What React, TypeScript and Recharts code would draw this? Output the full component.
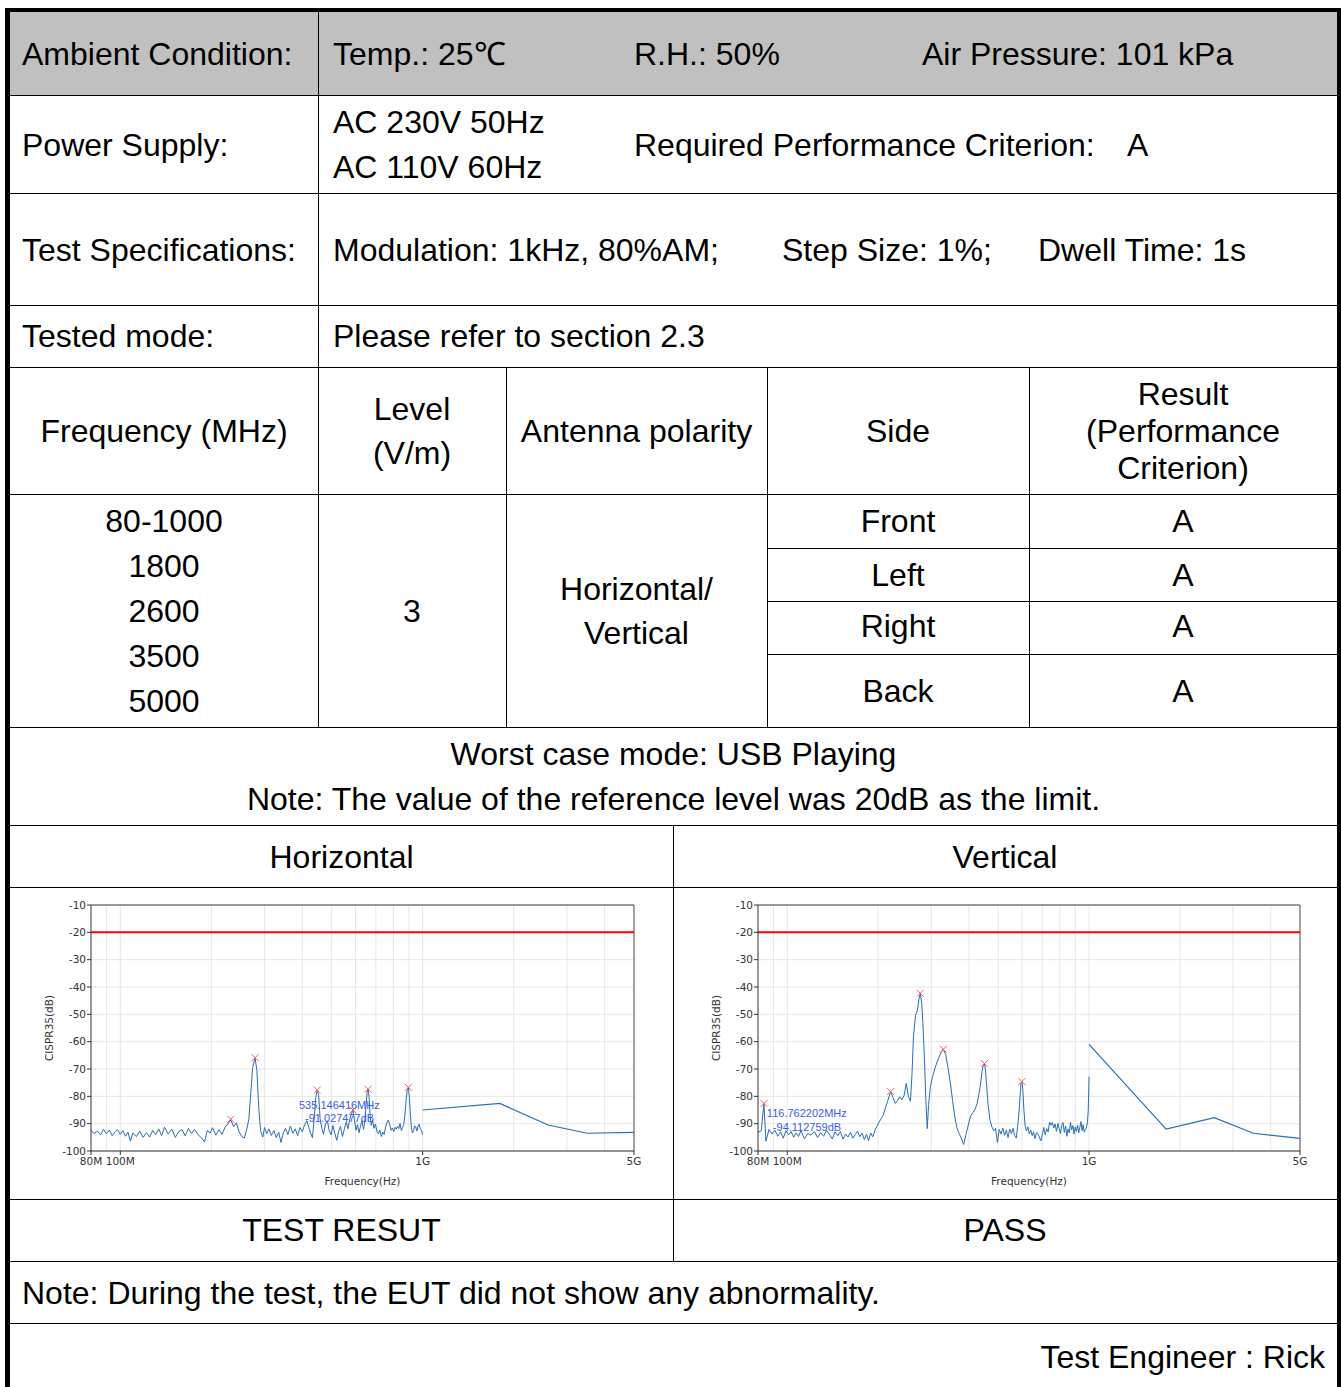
import React from "react";
import {
  ComposedChart,
  Line,
  XAxis,
  YAxis,
  CartesianGrid,
  ReferenceLine,
  ReferenceDot,
} from "recharts";

type Pt = [number, number];

// frequency in MHz, level in dB
const H_SWEEP: Pt[] = [
  [80, -92.5], [82, -93.6], [84, -92.7], [86, -94.1], [88, -92.0], [90, -93.7], [92, -92.3], [94, -94.4],
  [96, -93.0], [98, -92.2], [100, -93.9], [102, -92.5], [104, -94.6], [106, -93.1], [108, -96.4], [110, -93.4],
  [113, -94.7], [116, -92.7], [119, -95.0], [122, -93.3], [125, -94.9], [128, -92.5], [131, -94.0], [134, -91.9],
  [137, -94.4], [140, -91.3], [144, -93.8], [148, -92.0], [152, -95.0], [156, -92.9], [160, -92.2], [164, -94.5],
  [168, -91.7], [172, -93.6], [176, -92.1], [181, -94.1], [186, -95.3], [190, -96.7], [194, -92.4], [198, -93.5],
  [202, -91.5], [207, -94.2], [212, -92.2], [217, -93.9], [222, -91.3], [227, -90.1], [232, -88.6], [237, -91.1],
  [242, -89.7], [247, -92.9], [252, -94.7], [257, -95.3], [262, -92.0], [266, -88.5], [270, -79.0], [274, -69.5],
  [279, -65.9], [283, -70.5], [287, -84.0], [291, -92.6], [296, -94.9], [300, -91.4], [305, -93.7], [310, -91.9],
  [316, -94.3], [322, -92.5], [328, -95.1], [334, -93.1], [340, -96.9], [346, -93.4], [352, -91.7], [358, -94.0],
  [365, -90.9], [372, -93.5], [379, -91.9], [386, -94.4], [393, -91.4], [400, -92.9], [407, -90.4], [414, -88.9],
  [420, -91.3], [426, -93.6], [432, -95.1], [438, -87.8], [443, -80.4], [448, -77.7], [453, -79.6], [458, -88.2],
  [464, -91.7], [470, -93.9], [477, -90.1], [484, -88.9], [491, -92.6], [498, -94.1], [505, -90.7], [512, -93.5],
  [520, -96.1], [527, -92.9], [535, -91.0], [543, -94.7], [551, -91.9], [559, -89.4], [566, -91.9], [574, -88.4],
  [581, -86.5], [588, -85.0], [595, -88.7], [602, -92.4], [609, -90.4], [616, -93.3], [623, -90.9], [630, -88.9],
  [637, -92.1], [643, -89.4], [649, -84.1], [655, -78.6], [660, -77.4], [665, -80.1], [670, -87.1], [676, -90.6],
  [683, -88.7], [690, -91.7], [698, -90.1], [706, -92.9], [714, -93.7], [722, -92.4], [730, -94.7], [738, -93.1],
  [746, -94.0], [754, -91.2], [762, -89.6], [770, -88.7], [778, -90.3], [786, -92.4], [794, -91.6], [802, -92.9],
  [810, -91.3], [818, -92.0], [826, -90.9], [834, -91.8], [842, -89.9], [850, -92.5], [858, -91.4], [866, -90.2],
  [874, -86.8], [882, -81.0], [890, -77.5], [897, -76.7], [904, -80.5], [911, -86.8], [918, -91.6], [925, -93.4],
  [933, -92.6], [941, -90.8], [949, -91.2], [957, -92.7], [965, -91.0], [973, -90.2], [981, -91.9], [990, -92.4],
  [1000, -94.0],
];
const H_HIGH: Pt[] = [[1000, -85.0], [1800, -82.6], [2600, -90.5], [3500, -93.5], [5000, -93.2]];
const H_PEAKS: Pt[] = [[232, -88.4], [279, -65.9], [448, -77.7], [588, -85.0], [660, -77.4], [897, -76.7]];
const H_NOTE = ["535.146416MHz", "-91.027477dB"];

const V_SWEEP: Pt[] = [
  [80, -93.2], [82, -92.6], [83.7, -82.6], [85, -96.4], [87, -92.1], [89, -93.8], [91, -92.4], [93, -94.6],
  [95, -93.0], [97, -95.3], [99, -92.6], [101, -94.1], [103, -92.9], [105, -95.0], [107, -93.4], [109, -94.7],
  [111, -92.5], [114, -95.6], [117, -93.6], [120, -94.2], [123, -92.8], [126, -95.1], [129, -93.3], [132, -94.6],
  [135, -92.4], [138, -94.0], [141, -95.6], [144, -93.0], [147, -94.4], [150, -92.9], [153, -95.7], [156, -93.8],
  [159, -94.9], [162, -93.2], [165, -95.3], [168, -94.0], [171, -92.7], [174, -94.8], [177, -93.5], [180, -95.8],
  [183, -93.9], [186, -96.2], [189, -93.4], [192, -94.8], [196, -92.0], [200, -90.1], [204, -88.4], [208, -86.9],
  [212, -83.9], [216, -81.2], [220, -78.3], [224, -80.4], [228, -82.6], [232, -81.5], [236, -80.2], [240, -81.3],
  [244, -79.6], [248, -75.2], [252, -80.1], [256, -81.8], [259, -72.0], [262, -58.0], [266, -50.5], [270, -48.5],
  [273, -44.5], [276, -42.3], [279, -46.0], [282, -55.0], [285, -67.0], [288, -82.0], [291, -91.8], [294, -83.0],
  [298, -76.5], [303, -72.8], [309, -69.5], [316, -66.5], [323, -64.0], [329, -62.8], [335, -64.8], [341, -69.5],
  [347, -75.0], [353, -81.5], [359, -87.5], [365, -91.5], [371, -93.6], [377, -95.2], [384, -97.6], [391, -94.0],
  [398, -90.5], [405, -87.2], [412, -86.0], [419, -84.8], [426, -82.5], [432, -79.0], [437, -75.5], [442, -71.0],
  [446, -68.8], [450, -68.0], [454, -70.6], [458, -76.5], [463, -83.0], [469, -88.4], [476, -91.0], [483, -92.6],
  [490, -91.7], [497, -96.8], [504, -92.1], [511, -93.8], [518, -91.6], [525, -94.3], [532, -92.4], [539, -95.1],
  [546, -92.0], [553, -93.6], [560, -91.7], [567, -94.4], [574, -95.3], [580, -91.0], [586, -86.0], [591, -79.5],
  [595, -75.4], [599, -74.6], [603, -77.0], [608, -84.6], [614, -90.8], [620, -92.6], [627, -91.2], [634, -93.7],
  [641, -92.4], [648, -94.4], [655, -93.0], [662, -95.5], [669, -93.3], [676, -93.6], [684, -94.8], [692, -96.3],
  [700, -94.2], [708, -91.4], [716, -94.1], [724, -91.8], [732, -93.0], [740, -89.4], [748, -90.6], [756, -89.5],
  [764, -91.6], [772, -90.1], [780, -92.8], [788, -89.9], [796, -91.7], [804, -93.6], [812, -90.6], [820, -89.6],
  [828, -93.2], [836, -90.8], [844, -94.6], [852, -91.9], [860, -93.4], [868, -89.4], [876, -92.3], [884, -90.7],
  [892, -93.8], [900, -91.2], [908, -92.9], [916, -90.5], [924, -93.4], [932, -91.4], [940, -89.2], [948, -92.6],
  [956, -90.4], [964, -93.1], [972, -92.0], [980, -91.6], [988, -89.5], [994, -85.0], [1000, -72.8],
];
const V_HIGH: Pt[] = [[1000, -61.0], [1800, -92.0], [2600, -87.8], [3500, -93.5], [5000, -95.4]];
const V_PEAKS: Pt[] = [[83.7, -82.6], [220, -78.3], [276, -42.3], [329, -62.8], [450, -68.0], [599, -74.6]];
const V_NOTE = ["116.762202MHz", "-94.112759dB"];

const X_TICKS = [80, 100, 1000, 5000];
const X_TICK_LABELS: Record<number, string> = { 80: "80M", 100: "100M", 1000: "1G", 5000: "5G" };
const X_GRID = [90, 100, 200, 300, 400, 500, 600, 700, 800, 900, 1000, 2000, 3000, 4000];
const Y_TICKS = [-10, -20, -30, -40, -50, -60, -70, -80, -90, -100];
const LIMIT_DB = -20;

const rows = (pts: Pt[]) => pts.map(([f, db]) => ({ f, db }));

const axisFont = { fontSize: 10.5, fill: "#333", fontFamily: "DejaVu Sans, sans-serif" };

function Cross(props: any) {
  const { cx, cy } = props;
  if (cx == null || cy == null) return null;
  return (
    <path
      d={`M${cx - 3.5},${cy - 3.5}L${cx + 3.5},${cy + 3.5}M${cx + 3.5},${cy - 3.5}L${cx - 3.5},${cy + 3.5}`}
      stroke="#ff5a5a"
      strokeWidth={1}
      fill="none"
    />
  );
}

function ScanChart({
  sweep,
  high,
  peaks,
  note,
  noteAt,
  width,
}: {
  sweep: Pt[];
  high: Pt[];
  peaks: Pt[];
  note: string[];
  noteAt: Pt;
  width: number;
}) {
  return (
    <ComposedChart width={width} height={300} margin={{ top: 15, right: 16, bottom: 5, left: 6 }}>
      <CartesianGrid stroke="#e6e6e6" verticalValues={X_GRID} horizontalValues={Y_TICKS} />
      <XAxis
        type="number"
        dataKey="f"
        scale="log"
        domain={[80, 5000]}
        allowDataOverflow
        ticks={X_TICKS}
        interval={0}
        tickFormatter={(v: number) => X_TICK_LABELS[v] ?? ""}
        tick={axisFont}
        tickSize={4}
        tickMargin={3}
        stroke="#333"
        height={34}
        label={{ value: "Frequency(Hz)", position: "insideBottom", offset: 0, ...axisFont }}
      />
      <YAxis
        type="number"
        dataKey="db"
        domain={[-100, -10]}
        ticks={Y_TICKS}
        interval={0}
        tick={axisFont}
        tickSize={4}
        tickMargin={1}
        stroke="#333"
        width={45}
        label={{
          content: (p: any) => {
            const vb = p.viewBox || {};
            return (
              <text
                transform={`translate(${vb.x + 3},${vb.y + vb.height / 2}) rotate(-90)`}
                textAnchor="middle"
                dominantBaseline="central"
                {...axisFont}
              >
                CISPR35(dB)
              </text>
            );
          },
        }}
      />
      <ReferenceLine y={-10} stroke="#444" />
      <ReferenceLine x={5000} stroke="#444" />
      <ReferenceLine y={LIMIT_DB} stroke="#ff0000" strokeWidth={2} />
      <Line
        data={rows(sweep)}
        dataKey="db"
        stroke="#2a6fb5"
        strokeWidth={1}
        dot={false}
        isAnimationActive={false}
      />
      <Line
        data={rows(high)}
        dataKey="db"
        stroke="#2a6fb5"
        strokeWidth={1.2}
        dot={false}
        isAnimationActive={false}
      />
      <Line
        data={rows(peaks)}
        dataKey="db"
        stroke="none"
        dot={(p: any) => <Cross key={`c${p.index}`} {...p} />}
        activeDot={false}
        isAnimationActive={false}
      />
      <ReferenceDot
        x={noteAt[0]}
        y={noteAt[1]}
        shape={(p: any) => (
          <g>
            <text x={p.cx} y={p.cy} fill="#3b5bf0" fontSize={11} fontFamily="Liberation Sans, Arial">
              {note[0]}
            </text>
            <text x={p.cx + 6} y={p.cy + 13.5} fill="#3b5bf0" fontSize={11} fontFamily="Liberation Sans, Arial">
              {note[1]}
            </text>
          </g>
        )}
      />
    </ComposedChart>
  );
}

const LINE = "#000";

function HLine({ y, x1 = 10, x2 = 1337 }: { y: number; x1?: number; x2?: number }) {
  return <div style={{ position: "absolute", left: x1, top: y, width: x2 - x1, height: 1, background: LINE }} />;
}
function VLine({ x, y1, y2 }: { x: number; y1: number; y2: number }) {
  return <div style={{ position: "absolute", left: x, top: y1, width: 1, height: y2 - y1, background: LINE }} />;
}
function Txt({
  x,
  y,
  w,
  align = "left",
  children,
}: {
  x: number;
  y: number;
  w?: number;
  align?: "left" | "center" | "right";
  children: React.ReactNode;
}) {
  return (
    <div
      style={{
        position: "absolute",
        left: x,
        top: y - 29,
        width: w,
        textAlign: align,
        lineHeight: "36px",
        whiteSpace: "nowrap",
      }}
    >
      {children}
    </div>
  );
}

export default function App() {
  const C1 = [10, 318];
  const C2 = [318, 506];
  const C3 = [506, 767];
  const C4 = [767, 1029];
  const C5 = [1029, 1337];
  const cen = (c: number[], y: number, t: string) => (
    <Txt x={c[0]} w={c[1] - c[0]} y={y} align="center">
      {t}
    </Txt>
  );
  return (
    <div
      style={{
        position: "absolute",
        left: 0,
        top: 0,
        width: 1341,
        height: 1387,
        overflow: "hidden",
        background: "#fff",
        fontFamily: "'Liberation Sans', Arial, sans-serif",
        fontSize: 32,
        color: "#000",
      }}
    >
      {/* header band */}
      <div style={{ position: "absolute", left: 10, top: 12, width: 1327, height: 83, background: "#c0c0c0" }} />
      {/* thick outer frame */}
      <div style={{ position: "absolute", left: 5, top: 8, width: 1336, height: 4, background: LINE }} />
      <div style={{ position: "absolute", left: 5, top: 8, width: 5, height: 1379, background: LINE }} />
      <div style={{ position: "absolute", left: 1337, top: 8, width: 4, height: 1379, background: LINE }} />

      {[95, 193, 305, 367, 494, 727, 825, 887, 1199, 1261, 1323].map((y) => (
        <HLine key={y} y={y} />
      ))}
      {[548, 601, 654].map((y) => (
        <HLine key={y} y={y} x1={767} />
      ))}
      <VLine x={318} y1={12} y2={727} />
      <VLine x={506} y1={367} y2={727} />
      <VLine x={767} y1={367} y2={727} />
      <VLine x={1029} y1={367} y2={727} />
      <VLine x={673} y1={825} y2={1261} />

      <Txt x={22} y={65}>Ambient Condition:</Txt>
      <Txt x={333} y={65}>Temp.: 25℃</Txt>
      <Txt x={634} y={65}>R.H.: 50%</Txt>
      <Txt x={922} y={65}>Air Pressure: 101 kPa</Txt>

      <Txt x={22} y={156}>Power Supply:</Txt>
      <Txt x={333} y={133}>AC 230V 50Hz</Txt>
      <Txt x={333} y={178}>AC 110V 60Hz</Txt>
      <Txt x={634} y={156}>Required Performance Criterion:</Txt>
      <Txt x={1127} y={156}>A</Txt>

      <Txt x={22} y={261}>Test Specifications:</Txt>
      <Txt x={333} y={261}>Modulation: 1kHz, 80%AM;</Txt>
      <Txt x={782} y={261}>Step Size: 1%;</Txt>
      <Txt x={1038} y={261}>Dwell Time: 1s</Txt>

      <Txt x={22} y={347}>Tested mode:</Txt>
      <Txt x={333} y={347}>Please refer to section 2.3</Txt>

      {cen(C1, 442, "Frequency (MHz)")}
      {cen(C2, 420, "Level")}
      {cen(C2, 464, "(V/m)")}
      {cen(C3, 442, "Antenna polarity")}
      {cen(C4, 442, "Side")}
      {cen(C5, 405, "Result")}
      {cen(C5, 442, "(Performance")}
      {cen(C5, 479, "Criterion)")}

      {cen(C1, 532, "80-1000")}
      {cen(C1, 577, "1800")}
      {cen(C1, 622, "2600")}
      {cen(C1, 667, "3500")}
      {cen(C1, 712, "5000")}
      {cen(C2, 622, "3")}
      {cen(C3, 600, "Horizontal/")}
      {cen(C3, 644, "Vertical")}
      {cen(C4, 532, "Front")}
      {cen(C4, 586, "Left")}
      {cen(C4, 637, "Right")}
      {cen(C4, 702, "Back")}
      {cen(C5, 532, "A")}
      {cen(C5, 586, "A")}
      {cen(C5, 637, "A")}
      {cen(C5, 702, "A")}

      {cen([10, 1337], 765, "Worst case mode: USB Playing")}
      {cen([10, 1337], 810, "Note: The value of the reference level was 20dB as the limit.")}

      {cen([10, 673], 868, "Horizontal")}
      {cen([673, 1337], 868, "Vertical")}

      <div style={{ position: "absolute", left: 40, top: 890 }}>
        <ScanChart sweep={H_SWEEP} high={H_HIGH} peaks={H_PEAKS} note={H_NOTE} noteAt={[390, -84.6]} width={610} />
      </div>
      <div style={{ position: "absolute", left: 707, top: 890 }}>
        <ScanChart sweep={V_SWEEP} high={V_HIGH} peaks={V_PEAKS} note={V_NOTE} noteAt={[85.6, -87.6]} width={609} />
      </div>

      {cen([10, 673], 1241, "TEST RESUT")}
      {cen([673, 1337], 1241, "PASS")}

      <Txt x={22} y={1304}>Note: During the test, the EUT did not show any abnormality.</Txt>
      <Txt x={0} w={1325} y={1368} align="right">
        Test Engineer : Rick
      </Txt>
    </div>
  );
}
